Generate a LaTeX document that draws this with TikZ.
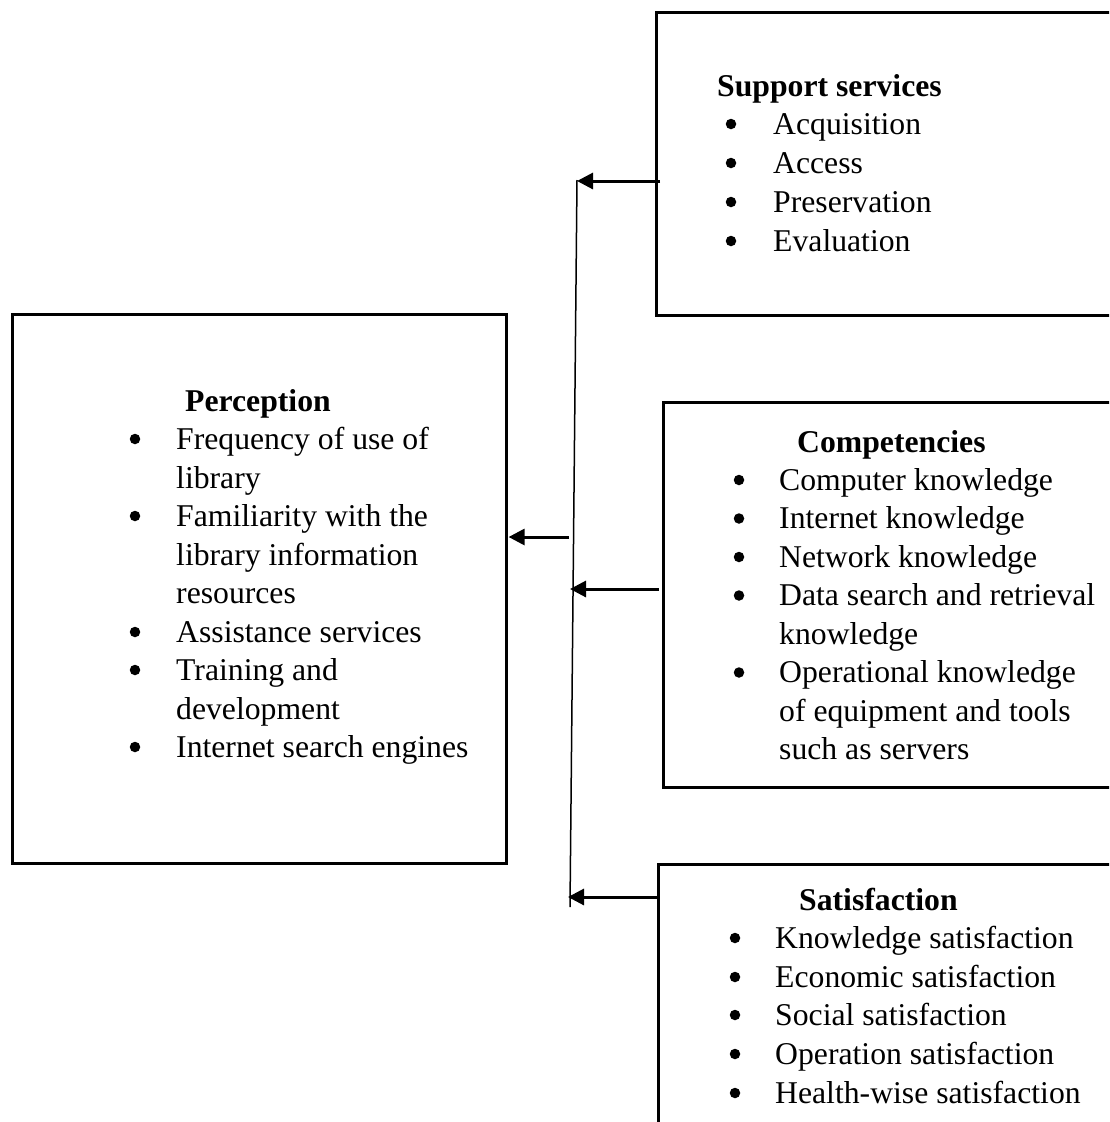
\documentclass[tikz,border=0pt]{standalone}
\usepackage{fontspec}
\setmainfont{Liberation Serif}
\usetikzlibrary{arrows.meta}
\begin{document}
\begin{tikzpicture}[x=1pt,y=-1pt,
  boxnode/.style={draw=black, line width=2.6pt, anchor=north west, inner sep=0pt},
  txt/.style={anchor=base west, inner sep=0pt, font=\fontsize{31.7}{38.5}\selectfont},
  hd/.style={txt, font=\fontsize{31.7}{38.5}\selectfont\bfseries},
  bul/.style={circle, fill=black, inner sep=0pt, minimum size=10.5pt},
  arr/.style={line width=3pt, -{Triangle[length=16pt,width=16pt]}},
  spine/.style={line width=1.5pt}]
\useasboundingbox (0,0) rectangle (1109,1122);
\clip (0,0) rectangle (1109,1122);
\fill[white] (0,0) rectangle (1109,1122);

% boxes
\node[boxnode, minimum width=465pt, minimum height=303pt] (ss) at (655,11) {};
\node[boxnode, minimum width=460pt, minimum height=385pt] (comp) at (662,401) {};
\node[boxnode, minimum width=465pt, minimum height=280pt] (sat) at (657,863) {};
\node[boxnode, minimum width=494pt, minimum height=549pt] (perc) at (11,313) {};

% Support services
\node[hd] (ssh) at (717,96) {Support services};
\foreach \y/\t [count=\i] in {134/Acquisition,173/Access,212/Preservation,251/Evaluation}{
  \node[bul] (ssb\i) at (731,\y-10) {};
  \node[txt] (sst\i) at (773,\y) {\t};
}

% Competencies
\node[hd] (comph) at (797,452) {Competencies};
\foreach \y [count=\i] in {490,528.5,567,605.5,682.5}{
  \node[bul] (cb\i) at (739,\y-10) {};
}
\foreach \y/\t [count=\i] in {490/Computer knowledge,528.5/Internet knowledge,567/Network knowledge,605.5/Data search and retrieval,644/knowledge,682.5/Operational knowledge,721/of equipment and tools,759.5/such as servers}{
  \node[txt] (ct\i) at (779,\y) {\t};
}

% Satisfaction
\node[hd] (sath) at (799,910) {Satisfaction};
\foreach \y/\t [count=\i] in {948/Knowledge satisfaction,987/Economic satisfaction,1025/Social satisfaction,1064/Operation satisfaction,1103/Health-wise satisfaction}{
  \node[bul] (sb\i) at (735,\y-10) {};
  \node[txt] (st\i) at (775,\y) {\t};
}

% Perception
\node[hd] (perch) at (185,411) {Perception};
\foreach \y [count=\i] in {449,526,642,680,757}{
  \node[bul] (pb\i) at (135,\y-10) {};
}
\foreach \y/\t [count=\i] in {449/Frequency of use of,488/library,526/Familiarity with the,565/library information,603/resources,642/Assistance services,680/Training and,719/development,757/Internet search engines}{
  \node[txt] (pt\i) at (176,\y) {\t};
}

% connectors
\coordinate (vtop) at (577,180);
\coordinate (vbot) at (570,907);
\coordinate (j1) at (577,181);
\coordinate (j2) at (569,537);
\coordinate (j3) at (570,589);
\coordinate (j4) at (568,897);
\draw[spine] (vtop) -- (vbot);
\draw[arr] ([xshift=5pt]ss.west |- j1) -- (j1);
\draw[arr] (j2) -- ([xshift=1pt]perc.east |- j2);
\draw[arr] ([xshift=-3pt]comp.west |- j3) -- (j3);
\draw[arr] (sat.west |- j4) -- (j4);
\end{tikzpicture}
\end{document}
